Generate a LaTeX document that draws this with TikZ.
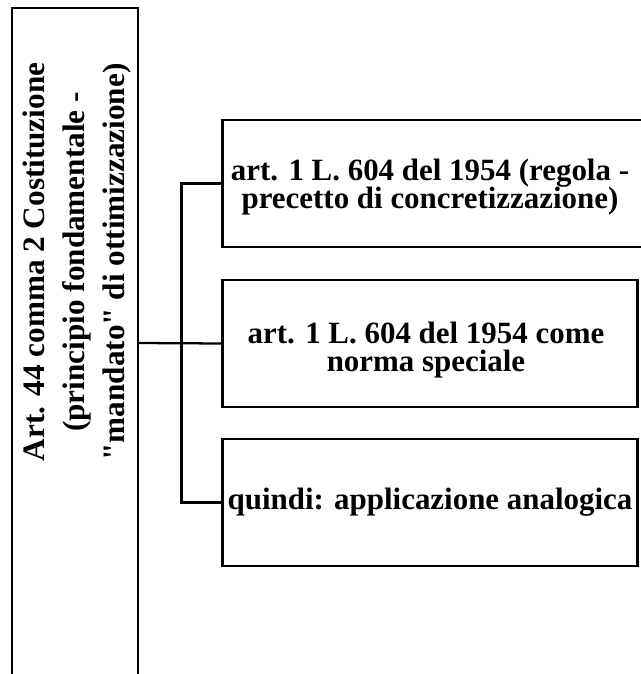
\documentclass[tikz,border=0pt]{standalone}
\usepackage{fontspec}
\setmainfont{Liberation Serif}[Ligatures=TeXOff]
\usetikzlibrary{positioning}
%
\tikzset{
  trait/.style={line width=1.7pt},
  cadre/.style={draw, trait, outer sep=0pt, anchor=north west,
                minimum width=311.25pt, minimum height=95.25pt},
  texte/.style={align=center, font=\bfseries\fontsize{23.2}{21.5}\selectfont},
}
%
\begin{document}
\begin{tikzpicture}[x=0.75pt, y=-0.75pt]%{{{
\useasboundingbox (0,0) rectangle (640,674);
%
% Colonne de gauche
\node [draw, trait, outer sep=0pt, minimum width=94.5pt, minimum height=502.5pt]
      (art) at (75,343) {};
\node [rotate=90, align=center, font=\bfseries\fontsize{23.4}{30}\selectfont]
      (arttxt) at (77,262)
      {Art. 44 comma 2 Costituzione\\ (principio fondamentale -\\
       "mandato" di ottimizzazione)};
%
% Cases de droite
\node [cadre, minimum width=330pt] (regola) at (222.5,120) {};
\node [texte] (regolatxt) at (430,187)
      {art. 1 L. 604 del 1954 (regola -\\ precetto di concretizzazione)};
\node [cadre] (speciale) at (222.5,280) {};
\node [texte] (specialetxt) at (426,350)
      {art. 1 L. 604 del 1954 come\\ norma speciale};
\node [cadre, texte, inner xsep=0pt] (analogia) at (222.5,439)
      {quindi: applicazione analogica};
%
% Liaisons
\draw [trait] (art.east) -- (speciale.west);
\draw [trait] (regola.west) -- ++(-41,0) |- (analogia.west);
%
\end{tikzpicture}
\end{document}
